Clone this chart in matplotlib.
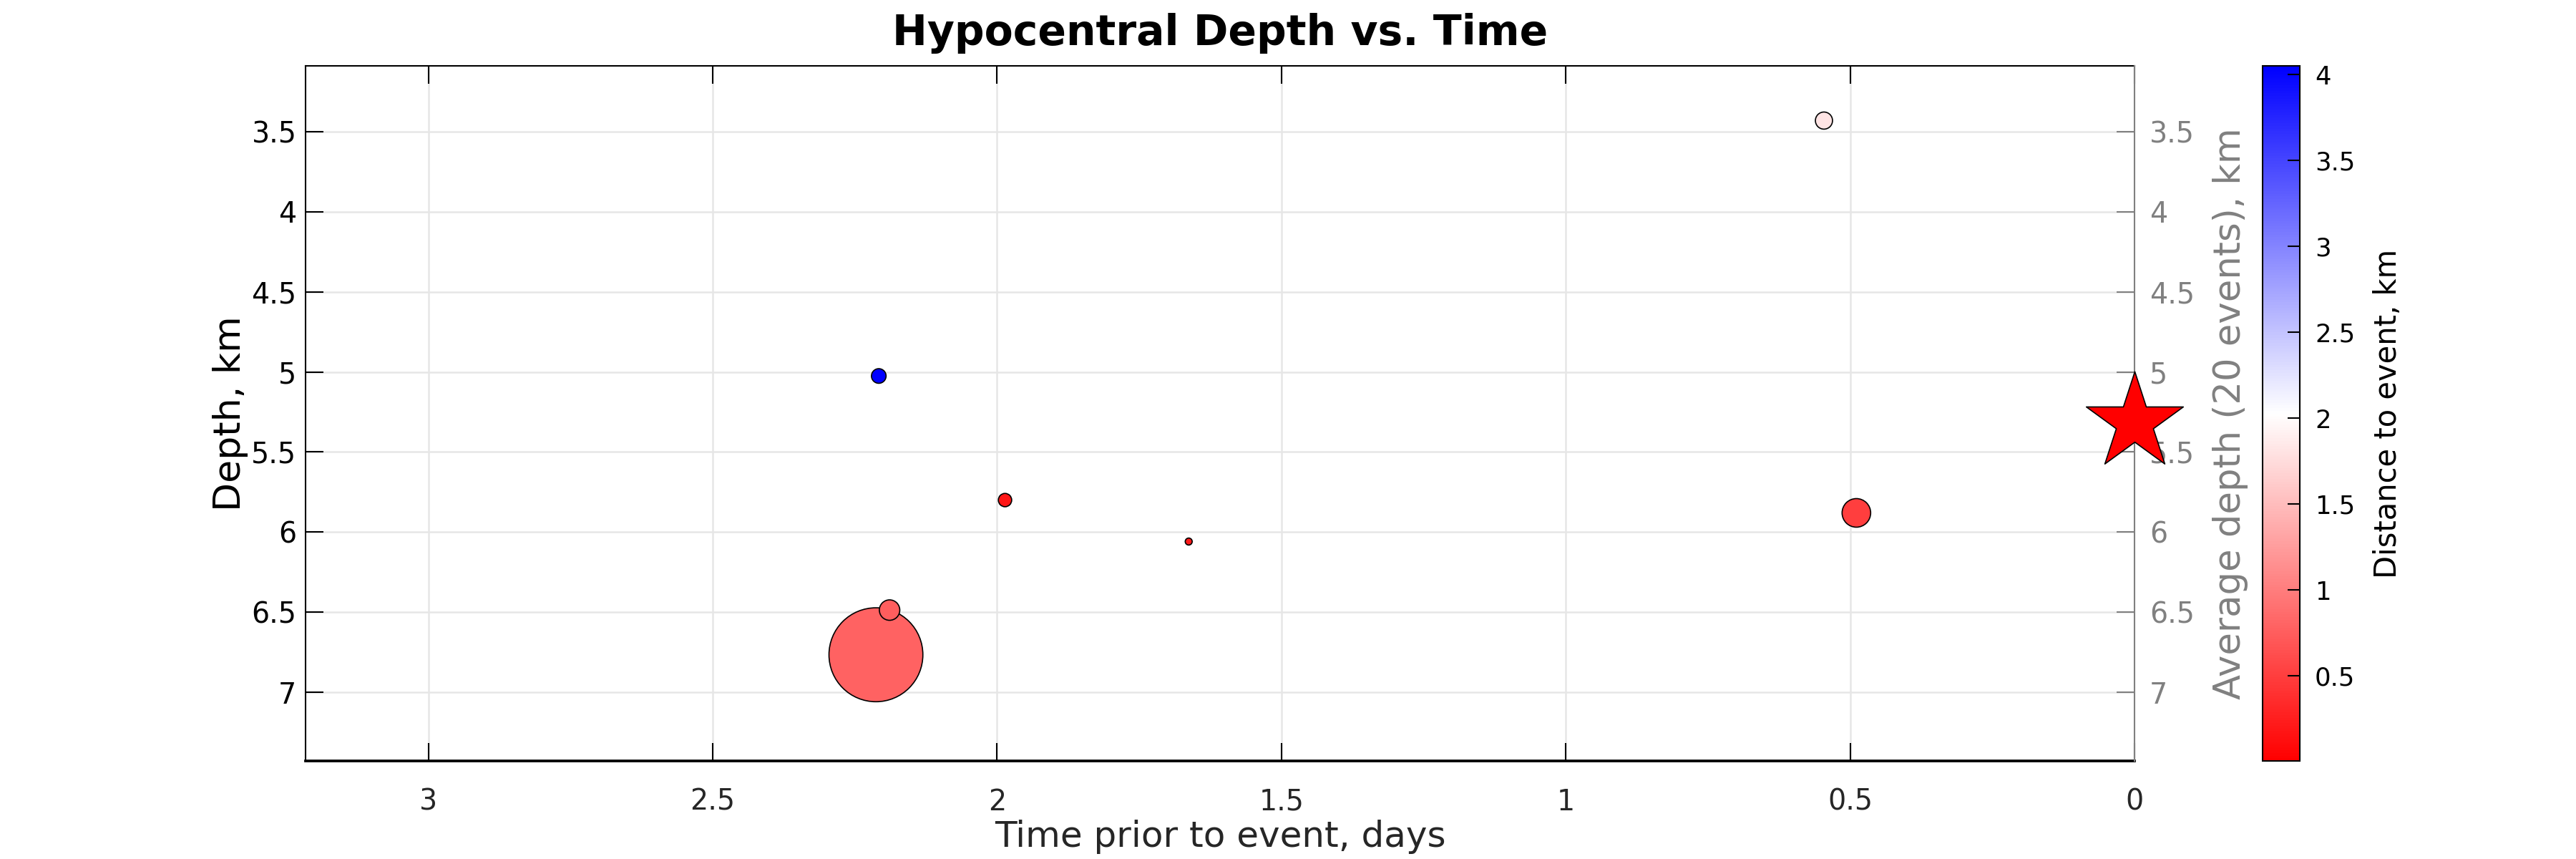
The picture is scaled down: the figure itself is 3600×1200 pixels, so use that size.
import matplotlib
matplotlib.use("Agg")
import matplotlib.pyplot as plt
from matplotlib.colors import LinearSegmentedColormap, Normalize
from matplotlib.cm import ScalarMappable

plt.rcParams['font.family'] = ['DejaVu Sans']

# Events: time before mainshock (days), depth (km), distance to mainshock (km), marker area
t_days = [2.213, 2.189, 2.208, 1.986, 1.663, 0.546, 0.489]
depth_km = [6.766, 6.487, 5.025, 5.80, 6.059, 3.430, 5.88]
dist_km = [0.78, 0.76, 4.05, 0.18, 0.22, 1.82, 0.50]
msize = [992, 47, 24, 20, 5.5, 33, 92]

# Mainshock
event_t = 0.0
event_depth = 5.314

dist_min, dist_max = 0.003, 4.05
xticks = [3, 2.5, 2, 1.5, 1, 0.5, 0]
yticks = [3.5, 4, 4.5, 5, 5.5, 6, 6.5, 7]
cticks = [0.5, 1, 1.5, 2, 2.5, 3, 3.5, 4]

cmap = LinearSegmentedColormap.from_list('rwb', [(1, 0, 0), (1, 1, 1), (0, 0, 1)], N=256)
norm = Normalize(dist_min, dist_max)

fig = plt.figure(figsize=(12, 4), dpi=300)
ax = fig.add_axes([0.1186, 0.114, 0.71, 0.809])

ax.grid(True, color='#e6e6e6', lw=0.6)
ax.set_axisbelow(True)
ax.scatter(t_days, depth_km, s=msize, c=dist_km, cmap=cmap, norm=norm,
           edgecolors='black', linewidths=0.4, zorder=3)

ax.set_xlim(3.216, 0)
ax.set_ylim(7.43, 3.09)
ax.set_xticks(xticks)
ax.set_xticklabels(['3', '2.5', '2', '1.5', '1', '0.5', '0'])
ax.set_yticks(yticks)
ax.set_yticklabels(['3.5', '4', '4.5', '5', '5.5', '6', '6.5', '7'])
ax.tick_params(direction='in', length=6, width=0.5, labelsize=9.5, colors='black',
               top=True, right=False)
ax.tick_params(axis='x', labelcolor='#262626', pad=9)
ax.tick_params(axis='y', pad=3)
for s in ['left', 'top']:
    ax.spines[s].set_linewidth(0.5)
ax.spines['bottom'].set_linewidth(0.9)
ax.spines['right'].set_visible(False)

ax.set_xlabel('Time prior to event, days', fontsize=12, color='#262626', labelpad=1)
ax.set_ylabel('Depth, km', fontsize=12.5, color='black', labelpad=1)
ax.set_title('Hypocentral Depth vs. Time', fontsize=14, fontweight='bold', pad=7)

ax2 = ax.twinx()
ax2.set_ylim(7.43, 3.09)
ax2.set_yticks(yticks)
ax2.set_yticklabels(['3.5', '4', '4.5', '5', '5.5', '6', '6.5', '7'])
ax2.tick_params(axis='y', direction='in', length=6, width=0.5, labelsize=9.5,
                colors='#808080', pad=5)
for s in ['left', 'top', 'bottom']:
    ax2.spines[s].set_visible(False)
ax2.spines['right'].set_color('#808080')
ax2.spines['right'].set_linewidth(0.5)
ax2.set_ylabel('Average depth (20 events), km', fontsize=12.3, color='#808080', labelpad=6)

ax2.scatter([event_t], [event_depth], marker='*', s=1170, c='red',
            edgecolors='black', linewidths=0.4, clip_on=False, zorder=5)

cax = fig.add_axes([0.8783, 0.114, 0.0145, 0.809])
cb = fig.colorbar(ScalarMappable(norm=norm, cmap=cmap), cax=cax)
cb.set_ticks(cticks)
cb.set_ticklabels(['0.5', '1', '1.5', '2', '2.5', '3', '3.5', '4'])
cb.ax.tick_params(direction='in', length=4, width=0.5, labelsize=8.5, pad=5)
cb.outline.set_linewidth(0.5)
cb.set_label('Distance to event, km', fontsize=10, labelpad=6)

fig.savefig('out.png', dpi=300)
